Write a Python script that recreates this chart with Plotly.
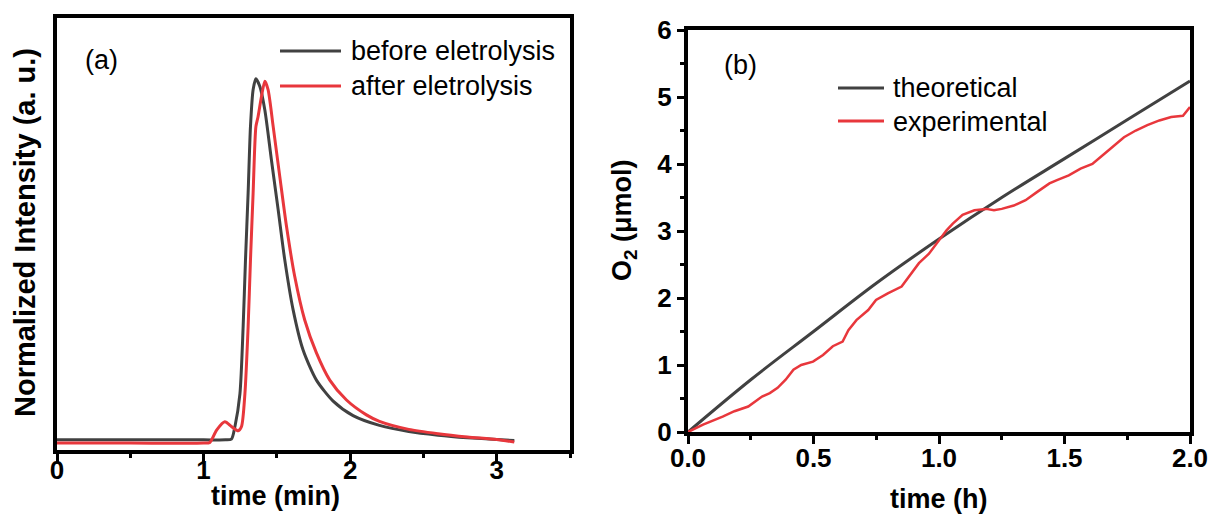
import plotly.graph_objects as go

# ---- (a) chromatogram, normalized intensity vs retention time (min) ----
time_before = [0.0, 0.5, 1.0, 1.15, 1.19, 1.214, 1.248, 1.27, 1.286, 1.304, 1.32, 1.338,
               1.357, 1.384, 1.418, 1.463, 1.509, 1.554, 1.611, 1.679, 1.77, 1.884, 2.02,
               2.2, 2.4, 2.6, 2.8, 3.0, 3.12]
intensity_before = [0.003, 0.003, 0.003, 0.003, 0.005, 0.04, 0.13, 0.316, 0.5, 0.685, 0.868,
                    0.97, 1.0, 0.979, 0.914, 0.776, 0.638, 0.5, 0.362, 0.251, 0.168, 0.11,
                    0.07, 0.043, 0.026, 0.016, 0.009, 0.004, 0.001]

time_after = [0.0, 0.5, 1.0, 1.043, 1.089, 1.145, 1.19, 1.236, 1.259, 1.282, 1.304, 1.32,
              1.338, 1.357, 1.372, 1.395, 1.418, 1.44, 1.475, 1.52, 1.566, 1.622, 1.69,
              1.77, 1.861, 1.975, 2.111, 2.2, 2.4, 2.6, 2.8, 3.0, 3.12]
intensity_after = [-0.006, -0.006, -0.006, -0.004, 0.03, 0.053, 0.04, 0.028, 0.04, 0.13,
                   0.316, 0.5, 0.684, 0.868, 0.896, 0.951, 0.993, 0.97, 0.868, 0.73, 0.592,
                   0.454, 0.334, 0.243, 0.168, 0.113, 0.072, 0.054, 0.032, 0.02, 0.011,
                   0.004, -0.003]

# ---- (b) O2 evolved vs electrolysis time (h) ----
time_theo = [0.0, 0.25, 0.5, 0.75, 1.0, 1.25, 1.5, 1.75, 2.0]
o2_theo = [0.0, 0.78, 1.50, 2.22, 2.88, 3.50, 4.08, 4.66, 5.24]

time_exp = [0.0, 0.06, 0.138, 0.185, 0.24, 0.295, 0.326, 0.357, 0.389, 0.42, 0.451, 0.498,
            0.538, 0.577, 0.616, 0.639, 0.671, 0.718, 0.749, 0.796, 0.851, 0.89, 0.92, 0.96,
            1.0, 1.03, 1.055, 1.094, 1.141, 1.188, 1.219, 1.25, 1.298, 1.345, 1.39, 1.44,
            1.47, 1.517, 1.564, 1.611, 1.658, 1.705, 1.737, 1.784, 1.83, 1.878, 1.925,
            1.972, 2.0]
o2_exp = [0.0, 0.11, 0.23, 0.31, 0.38, 0.53, 0.58, 0.66, 0.78, 0.93, 1.00, 1.05, 1.15, 1.28,
          1.35, 1.52, 1.67, 1.82, 1.97, 2.07, 2.17, 2.37, 2.52, 2.66, 2.86, 3.01, 3.11, 3.24,
          3.31, 3.33, 3.31, 3.33, 3.38, 3.46, 3.58, 3.71, 3.76, 3.83, 3.93, 4.00, 4.15, 4.30,
          4.40, 4.50, 4.58, 4.65, 4.70, 4.72, 4.85]

x_ticks_a = [0, 1, 2, 3]
x_ticks_b = [0.0, 0.5, 1.0, 1.5, 2.0]
y_ticks_b = [0, 1, 2, 3, 4, 5, 6]

W, H = 1211, 518
GRAY = "#414141"
RED = "#e8373c"
FONT = "Liberation Sans, Arial, sans-serif"


def px(x):
    return x / W


def py(y):
    return 1 - y / H


fig = go.Figure()

fig.add_trace(go.Scatter(x=time_before, y=intensity_before, mode="lines",
                         line=dict(color=GRAY, width=3, shape="spline", smoothing=0.7),
                         name="before eletrolysis", xaxis="x", yaxis="y", showlegend=False))
fig.add_trace(go.Scatter(x=time_after, y=intensity_after, mode="lines",
                         line=dict(color=RED, width=3, shape="spline", smoothing=0.7),
                         name="after eletrolysis", xaxis="x", yaxis="y", showlegend=False))
fig.add_trace(go.Scatter(x=time_theo, y=o2_theo, mode="lines",
                         line=dict(color=GRAY, width=3, shape="spline"),
                         name="theoretical", xaxis="x2", yaxis="y2", showlegend=False))
fig.add_trace(go.Scatter(x=time_exp, y=o2_exp, mode="lines",
                         line=dict(color=RED, width=2.5),
                         name="experimental", xaxis="x2", yaxis="y2", showlegend=False))

tickfont = dict(family=FONT, size=26, color="black", weight="bold")
axis_common = dict(showline=True, linecolor="black", linewidth=4, mirror=True,
                   showgrid=False, zeroline=False, tickfont=tickfont, automargin=False)

fig.update_layout(
    template="none",
    width=W, height=H,
    margin=dict(l=0, r=0, t=0, b=0, pad=0),
    paper_bgcolor="white", plot_bgcolor="white",
    xaxis=dict(domain=[px(57), px(570)], anchor="y", range=[0, 3.5],
               tickvals=x_ticks_a, ticks="outside", ticklen=8, tickwidth=3,
               tickcolor="black", ticklabelstandoff=-14,
               minor=dict(ticks="outside", ticklen=4, tickwidth=3, dtick=0.5,
                          tickcolor="black"),
               **axis_common),
    yaxis=dict(domain=[py(450), py(18)], anchor="x", range=[-0.025, 1.168],
               showticklabels=False, ticks="", **axis_common),
    xaxis2=dict(domain=[px(688), px(1190)], anchor="y2", range=[0, 2],
                tickvals=x_ticks_b, tickformat=".1f", ticks="outside", ticklen=8,
                tickwidth=3, tickcolor="black", ticklabelstandoff=-8,
                minor=dict(ticks="outside", ticklen=4, tickwidth=3, dtick=0.25,
                           tickcolor="black"),
                **axis_common),
    yaxis2=dict(domain=[py(432), py(30)], anchor="x2", range=[0, 6],
                tickvals=y_ticks_b, ticks="outside", ticklen=7, tickwidth=3,
                tickcolor="black",
                minor=dict(ticks="outside", ticklen=4, tickwidth=3, dtick=0.5,
                           tickcolor="black"),
                **axis_common),
)

title_font = dict(family=FONT, size=27, color="black", weight="bold")
ytitle_font = dict(family=FONT, size=29, color="black", weight="bold")
label_font = dict(family=FONT, size=27, color="black")

annotations = [
    # axis titles
    dict(text="time (min)", x=px(275), y=py(496), font=title_font),
    dict(text="Normalized Intensity (a. u.)", x=px(25), y=py(233), textangle=-90,
         font=ytitle_font),
    dict(text="time (h)", x=px(939), y=py(499), font=title_font),
    dict(text="O<sub>2</sub> (μmol)", x=px(624), y=py(220), textangle=-90,
         font=title_font),
    # panel labels
    dict(text="(a)", x=px(101), y=py(60), font=label_font),
    dict(text="(b)", x=px(740), y=py(65), font=label_font),
    # legend texts
    dict(text="before eletrolysis", x=px(349), y=py(51), xanchor="left", font=label_font),
    dict(text="after eletrolysis", x=px(349), y=py(86), xanchor="left", font=label_font),
    dict(text="theoretical", x=px(891), y=py(88), xanchor="left", font=label_font),
    dict(text="experimental", x=px(891), y=py(122), xanchor="left", font=label_font),
]
for a in annotations:
    a.setdefault("xanchor", "center")
    a.update(xref="paper", yref="paper", yanchor="middle", showarrow=False)
fig.update_layout(annotations=annotations)

# legend keys
legend_keys = [
    (280, 341, 51, GRAY, 3),
    (280, 341, 86, RED, 3),
    (838, 884, 88, GRAY, 3),
    (838, 884, 121, RED, 3),
]
for x0, x1, yk, col, w in legend_keys:
    fig.add_shape(type="line", xref="paper", yref="paper",
                  x0=px(x0), x1=px(x1), y0=py(yk), y1=py(yk),
                  line=dict(color=col, width=w))

fig.write_html("out.html")
